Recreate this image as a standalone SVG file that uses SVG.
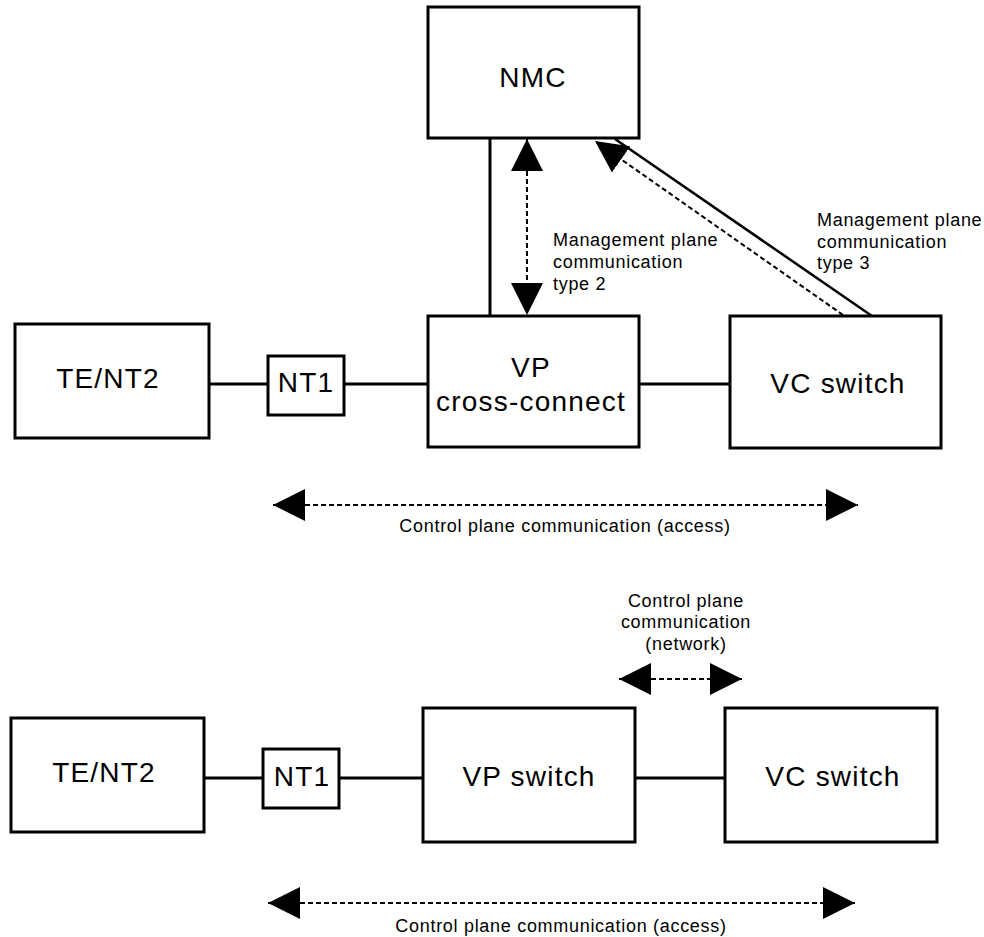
<svg xmlns="http://www.w3.org/2000/svg" width="984" height="937" viewBox="0 0 984 937">
  <style>
    .box { fill: #fff; stroke: #000; stroke-width: 3; }
    .link { stroke: #000; stroke-width: 3; fill: none; }
    .thin { stroke: #000; stroke-width: 2.5; fill: none; }
    .dash { stroke: #000; stroke-width: 2; fill: none; stroke-dasharray: 5 3; }
    .big { font-family: "Liberation Sans", Arial, sans-serif; font-size: 28px; letter-spacing: 1.2px; fill: #000; text-anchor: middle; }
    .small { font-family: "Liberation Sans", Arial, sans-serif; font-size: 18px; letter-spacing: 0.7px; fill: #000; }
    .mid { text-anchor: middle; }
  </style>
  <defs>
    <marker id="head" markerUnits="userSpaceOnUse" markerWidth="32" markerHeight="32" viewBox="0 0 32 32" refX="32" refY="16" orient="auto-start-reverse">
      <path d="M0,0 L32,16 L0,32 Z" fill="#000"/>
    </marker>
  </defs>
  <rect width="984" height="937" fill="#fff"/>

  <!-- upper configuration: VP cross-connect managed by NMC -->
  <g id="connectors-upper">
    <line class="link" x1="209" y1="384" x2="268" y2="384"/>
    <line class="link" x1="344" y1="384" x2="428" y2="384"/>
    <line class="link" x1="639" y1="384" x2="730" y2="384"/>
    <line class="link" x1="490" y1="138" x2="490" y2="316"/>
    <line class="dash" x1="527" y1="139" x2="527" y2="315" marker-start="url(#head)" marker-end="url(#head)"/>
    <line class="thin" x1="615" y1="139" x2="872" y2="316"/>
    <line class="dash" x1="843" y1="315" x2="595" y2="141" marker-end="url(#head)"/>
    <line class="dash" x1="273" y1="505" x2="858" y2="505" marker-start="url(#head)" marker-end="url(#head)"/>
  </g>

  <g id="nmc">
    <rect class="box" x="428" y="7" width="211" height="131"/>
    <text class="big" x="533" y="87">NMC</text>
  </g>
  <g id="te-nt2-upper">
    <rect class="box" x="15" y="324" width="194" height="114"/>
    <text class="big" x="108" y="388">TE/NT2</text>
  </g>
  <g id="nt1-upper">
    <rect class="box" x="268" y="356" width="76" height="59"/>
    <text class="big" x="306" y="392">NT1</text>
  </g>
  <g id="vp-cross-connect">
    <rect class="box" x="428" y="316" width="211" height="131"/>
    <text class="big" x="531" y="377">VP</text>
    <text class="big" x="531" y="411">cross-connect</text>
  </g>
  <g id="vc-switch-upper">
    <rect class="box" x="730" y="316" width="211" height="132"/>
    <text class="big" x="838" y="393">VC switch</text>
  </g>

  <g id="labels-upper">
    <text class="small" x="553" y="246">Management plane</text>
    <text class="small" x="553" y="268">communication</text>
    <text class="small" x="553" y="290">type 2</text>
    <text class="small" x="817" y="226">Management plane</text>
    <text class="small" x="817" y="248">communication</text>
    <text class="small" x="817" y="269">type 3</text>
    <text class="small mid" x="565" y="532">Control plane communication (access)</text>
  </g>

  <!-- lower configuration: VP switch and VC switch -->
  <g id="connectors-lower">
    <line class="link" x1="204" y1="778" x2="263" y2="778"/>
    <line class="link" x1="339" y1="778" x2="423" y2="778"/>
    <line class="link" x1="635" y1="778" x2="725" y2="778"/>
    <line class="dash" x1="619" y1="679" x2="742" y2="679" marker-start="url(#head)" marker-end="url(#head)"/>
    <line class="dash" x1="268" y1="903" x2="855" y2="903" marker-start="url(#head)" marker-end="url(#head)"/>
  </g>

  <g id="te-nt2-lower">
    <rect class="box" x="11" y="718" width="193" height="114"/>
    <text class="big" x="104" y="782">TE/NT2</text>
  </g>
  <g id="nt1-lower">
    <rect class="box" x="263" y="749" width="76" height="59"/>
    <text class="big" x="302" y="786">NT1</text>
  </g>
  <g id="vp-switch">
    <rect class="box" x="423" y="708" width="212" height="134"/>
    <text class="big" x="529" y="786">VP switch</text>
  </g>
  <g id="vc-switch-lower">
    <rect class="box" x="725" y="708" width="212" height="134"/>
    <text class="big" x="833" y="786">VC switch</text>
  </g>

  <g id="labels-lower">
    <text class="small mid" x="686" y="607">Control plane</text>
    <text class="small mid" x="686" y="628">communication</text>
    <text class="small mid" x="686" y="650">(network)</text>
    <text class="small mid" x="561" y="932">Control plane communication (access)</text>
  </g>
</svg>
